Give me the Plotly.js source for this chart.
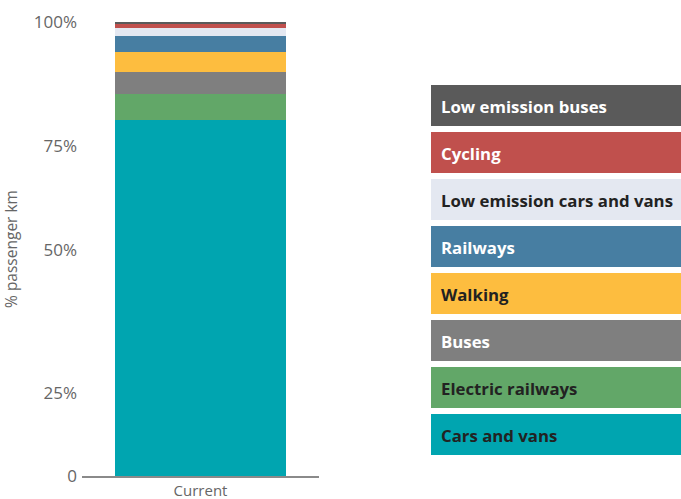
<!DOCTYPE html>
<html>
<head>
<meta charset="utf-8">
<script src="https://cdn.plot.ly/plotly-3.0.1.min.js"></script>
<style>html,body{margin:0;padding:0;background:#fff;}#chart{width:681px;height:499px;}</style>
</head>
<body>
<div id="chart"></div>
<script>
// Data (bottom of stack first)
const categories = ["Current"];
const seriesNames = ["Cars and vans", "Electric railways", "Buses", "Walking", "Railways",
  "Low emission cars and vans", "Cycling", "Low emission buses"];
const seriesValues = [78.4, 5.7, 4.85, 4.4, 3.6, 1.76, 0.75, 0.44];
const seriesColors = ["#00a5b0", "#62a768", "#7f7f7f", "#fdbd3f", "#477ea2", "#e4e8f1", "#c0504d", "#5a5a5a"];
const seriesTextColors = ["#222222", "#222222", "#ffffff", "#222222", "#ffffff", "#222222", "#ffffff", "#ffffff"];
// thin unlabelled sliver at the very top of the bar
const otherName = "Other";
const otherValue = 0.13;
const otherColor = "#3f9c98";
const tickVals = [0, 18.3, 49.8, 72.7, 100];
const tickText = ["0", "25%", "50%", "75%", "100%"];

const traces = seriesNames.map((n, i) => ({
  type: "bar", x: categories, y: [seriesValues[i]], name: n,
  marker: {color: seriesColors[i], line: {width: 0}}, width: 0.72, showlegend: false
}));
traces.push({type: "bar", x: categories, y: [otherValue], name: otherName,
  marker: {color: otherColor, line: {width: 0}}, width: 0.72, showlegend: false});

// layout geometry
const L = 82, R = 362, T = 22, B = 23;
const W = 681 - L - R, H = 499 - T - B;
const px2x = p => (p - L) / W;
const py2y = p => (499 - B - p) / H;

const shapes = [], annotations = [];
const boxLeft = 431, boxRight = 700, boxTop0 = 85, boxStep = 47, boxH = 41;
const n = seriesNames.length;
for (let k = 0; k < n; k++) {
  const i = n - 1 - k; // top legend item = top of stack
  const top = boxTop0 + k * boxStep;
  shapes.push({type: "rect", xref: "paper", yref: "paper",
    x0: px2x(boxLeft), x1: px2x(boxRight), y0: py2y(top + boxH), y1: py2y(top),
    fillcolor: seriesColors[i], line: {width: 0}, layer: "above"});
  annotations.push({xref: "paper", yref: "paper", x: px2x(439), y: py2y(top + boxH / 2 + 1),
    xanchor: "left", yanchor: "middle", showarrow: false,
    text: "<b>" + seriesNames[i] + "</b>",
    font: {family: "Open Sans, sans-serif", size: 16.8, color: seriesTextColors[i]}});
}

const layout = {
  width: 681, height: 499,
  margin: {l: L, r: R, t: T, b: B, pad: 0},
  barmode: "stack", bargap: 0,
  paper_bgcolor: "#ffffff", plot_bgcolor: "#ffffff",
  showlegend: false,
  font: {family: "Open Sans, sans-serif", color: "#666666"},
  xaxis: {type: "category", range: [-0.5, 0.5], showgrid: false, zeroline: false,
    showline: true, linecolor: "#8a8a8a", linewidth: 2, ticks: "",
    tickfont: {size: 15, color: "#666666"}, fixedrange: true},
  yaxis: {range: [0, 100], tickvals: tickVals, ticktext: tickText, showgrid: false,
    zeroline: false, showline: false, ticks: "", ticklabelstandoff: 4,
    tickfont: {size: 17, color: "#666666"},
    title: {text: "% passenger km", font: {size: 15.5, color: "#666666"}, standoff: 16},
    fixedrange: true},
  shapes: shapes,
  annotations: annotations
};

Plotly.newPlot("chart", traces, layout, {displayModeBar: false, staticPlot: true});
</script>
</body>
</html>
